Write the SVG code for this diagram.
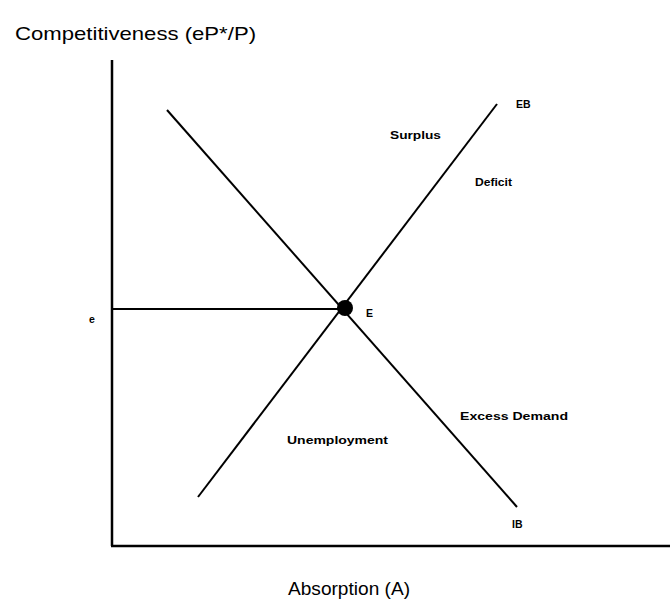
<svg xmlns="http://www.w3.org/2000/svg" width="670" height="601" viewBox="0 0 670 601">
<style>
.ax{stroke:#000;stroke-width:2.5;fill:none}
.ln{stroke:#000;stroke-width:2;fill:none}
.big{font-family:"Liberation Sans",Arial,sans-serif;font-size:19px;fill:#000}
.sm{font-family:"Liberation Sans",Arial,sans-serif;font-size:10.5px;font-weight:bold;fill:#000}
</style>
<rect width="670" height="601" fill="#fff"/>
<text class="big" x="15" y="40" textLength="241" lengthAdjust="spacingAndGlyphs">Competitiveness (eP*/P)</text>
<text class="big" x="288" y="595" textLength="122" lengthAdjust="spacingAndGlyphs">Absorption (A)</text>
<g id="connectors">
<line class="ax" x1="112" y1="60" x2="112" y2="546"/>
<line class="ax" x1="111" y1="546" x2="670" y2="546"/>
<line class="ln" x1="112" y1="309" x2="345" y2="309"/>
<line class="ln" x1="198" y1="497" x2="497" y2="104"/>
<line class="ln" x1="167" y1="110" x2="517" y2="507"/>
</g>
<g id="E"><circle cx="345" cy="308" r="8" fill="#000"/><text class="sm" x="366" y="317">E</text></g>
<g id="e"><text class="sm" x="89" y="323">e</text></g>
<g id="EB"><text class="sm" x="516" y="108">EB</text></g>
<g id="IB"><text class="sm" x="512" y="528">IB</text></g>
<g id="surplus"><text class="sm" x="390" y="139" textLength="51" lengthAdjust="spacingAndGlyphs">Surplus</text></g>
<g id="deficit"><text class="sm" x="475" y="186" textLength="37" lengthAdjust="spacingAndGlyphs">Deficit</text></g>
<g id="unemployment"><text class="sm" x="287" y="444" textLength="101" lengthAdjust="spacingAndGlyphs">Unemployment</text></g>
<g id="excess"><text class="sm" x="460" y="420" textLength="108" lengthAdjust="spacingAndGlyphs">Excess Demand</text></g>
</svg>
